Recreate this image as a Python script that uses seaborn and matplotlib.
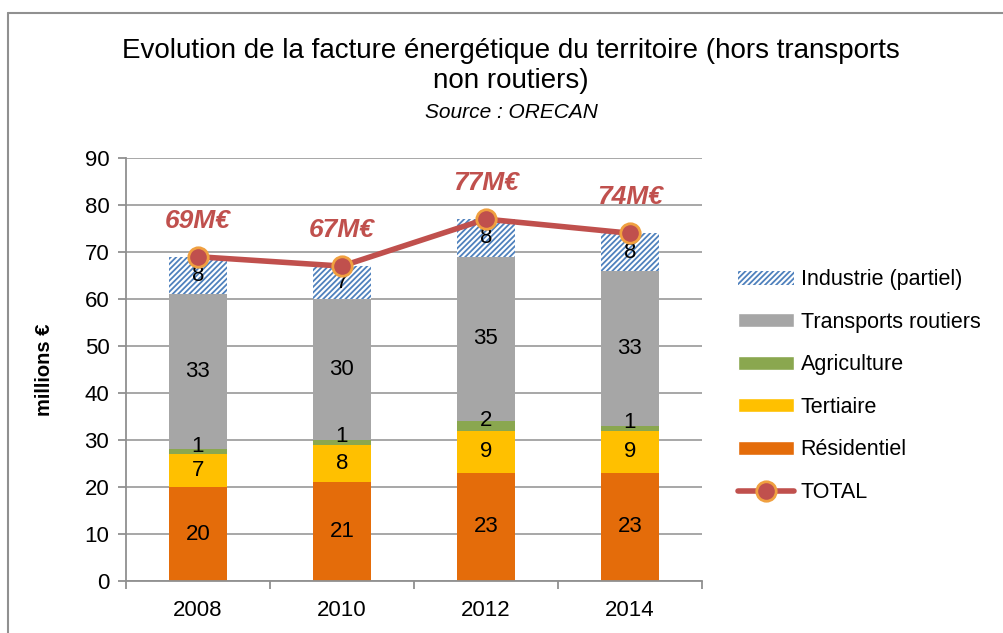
import matplotlib
matplotlib.use("Agg")
import matplotlib.pyplot as plt
import seaborn as sns
import numpy as np
import pandas as pd
from matplotlib.patches import Patch
from matplotlib.lines import Line2D

years = ["2008", "2010", "2012", "2014"]
residentiel = [20, 21, 23, 23]
tertiaire = [7, 8, 9, 9]
agriculture = [1, 1, 2, 1]
transports = [33, 30, 35, 33]
industrie = [8, 7, 8, 8]
total = [69, 67, 77, 74]

# stacking order bottom -> top
layers = [
    ("Résidentiel", residentiel, "#E46C0A"),
    ("Tertiaire", tertiaire, "#FFC000"),
    ("Agriculture", agriculture, "#8AA74F"),
    ("Transports routiers", transports, "#A6A6A6"),
    ("Industrie (partiel)", industrie, "#4F81BD"),
]

sns.set_style("white")
plt.rcParams["font.family"] = ["Liberation Sans", "DejaVu Sans"]
plt.rcParams["text.color"] = "black"
plt.rcParams["axes.labelcolor"] = "black"
plt.rcParams["hatch.linewidth"] = 1.3

fig = plt.figure(figsize=(10.04, 6.33), dpi=100)
ax = fig.add_axes([0.1255, 0.0821, 0.5735, 0.6683])

# cumulative tops, drawn from top layer down so lower layers sit over upper ones
df = pd.DataFrame({"year": years})
cum = np.zeros(len(years))
tops = []
for name, vals, color in layers:
    cum = cum + np.array(vals)
    tops.append((name, cum.copy(), vals, color))

for name, top, vals, color in reversed(tops):
    df["top"] = top
    if name.startswith("Industrie"):
        sns.barplot(data=df, x="year", y="top", width=0.4, color="white",
                    edgecolor=color, linewidth=0, hatch="//////", ax=ax,
                    saturation=1, zorder=2)
    else:
        sns.barplot(data=df, x="year", y="top", width=0.4, color=color,
                    linewidth=0, ax=ax, saturation=1, zorder=2)

# segment labels (thin agriculture labels nudged up a little, as in Excel)
for name, top, vals, color in tops:
    dy = 4 if name == "Agriculture" else 0
    for i, v in enumerate(vals):
        ax.annotate(str(v), (i, top[i] - v / 2), xytext=(0, dy),
                    textcoords="offset points", ha="center", va="center",
                    fontsize=16, color="black", zorder=5)

# total line
xpos = np.arange(len(years))
sns.lineplot(x=xpos, y=total, color="#C0504D", linewidth=4, marker="o",
             markersize=14, markerfacecolor="#C0504D", markeredgecolor="#F0A040",
             markeredgewidth=2, ax=ax, zorder=6)
for i, t in enumerate(total):
    ax.annotate(f"{t}M€", (i, t), xytext=(0, 26), textcoords="offset points",
                ha="center", va="center", fontsize=19, fontweight="bold",
                fontstyle="italic", color="#C0504D", zorder=7)

ax.set_xlim(-0.5, len(years) - 0.5)
ax.set_ylim(0, 90)
ax.set_yticks(range(0, 91, 10))
ax.set_xticks(np.arange(-0.5, len(years), 1.0), minor=True)
ax.set_xticks(xpos)
ax.set_xticklabels(years)
ax.set_xlabel("")
ax.set_ylabel("millions €", fontsize=14.5, fontweight="bold", labelpad=22)

ax.grid(axis="y", color="#A0A0A0", linewidth=1.3, zorder=0)
ax.set_axisbelow(True)
for side in ["top", "right"]:
    ax.spines[side].set_visible(False)
for side in ["left", "bottom"]:
    ax.spines[side].set_color("#909090")
    ax.spines[side].set_linewidth(1.3)
ax.tick_params(axis="y", which="major", left=True, length=6, width=1.3,
               color="#909090", labelcolor="black", labelsize=16, pad=6)
ax.tick_params(axis="x", which="major", bottom=False, labelcolor="black",
               labelsize=16, pad=10)
ax.tick_params(axis="x", which="minor", bottom=True, length=6, width=1.3,
               color="#909090")

# title
fig.text(0.509, 0.919, "Evolution de la facture énergétique du territoire (hors transports",
         ha="center", va="center", fontsize=20)
fig.text(0.509, 0.872, "non routiers)", ha="center", va="center", fontsize=20)
fig.text(0.509, 0.823, "Source : ORECAN", ha="center", va="center",
         fontsize=15, fontstyle="italic")

# legend
handles = [
    Patch(facecolor="white", edgecolor="#4F81BD", hatch="//////", linewidth=0,
          label="Industrie (partiel)"),
    Patch(facecolor="#A6A6A6", label="Transports routiers"),
    Patch(facecolor="#8AA74F", label="Agriculture"),
    Patch(facecolor="#FFC000", label="Tertiaire"),
    Patch(facecolor="#E46C0A", label="Résidentiel"),
    Line2D([0], [0], color="#C0504D", linewidth=4, marker="o", markersize=14,
           markerfacecolor="#C0504D", markeredgecolor="#F0A040",
           markeredgewidth=2, label="TOTAL"),
]
fig.legend(handles=handles, loc="center left", bbox_to_anchor=(0.716, 0.390),
           frameon=False, fontsize=15.5, handlelength=2.6, handleheight=0.6,
           handletextpad=0.3, labelspacing=1.0)

# outer chart border
fig.add_artist(Line2D([0.008, 0.008], [0.0, 0.979], color="#909090", linewidth=1.5))
fig.add_artist(Line2D([0.008, 1.0], [0.979, 0.979], color="#909090", linewidth=1.5))

fig.savefig("out.png", dpi=100)
